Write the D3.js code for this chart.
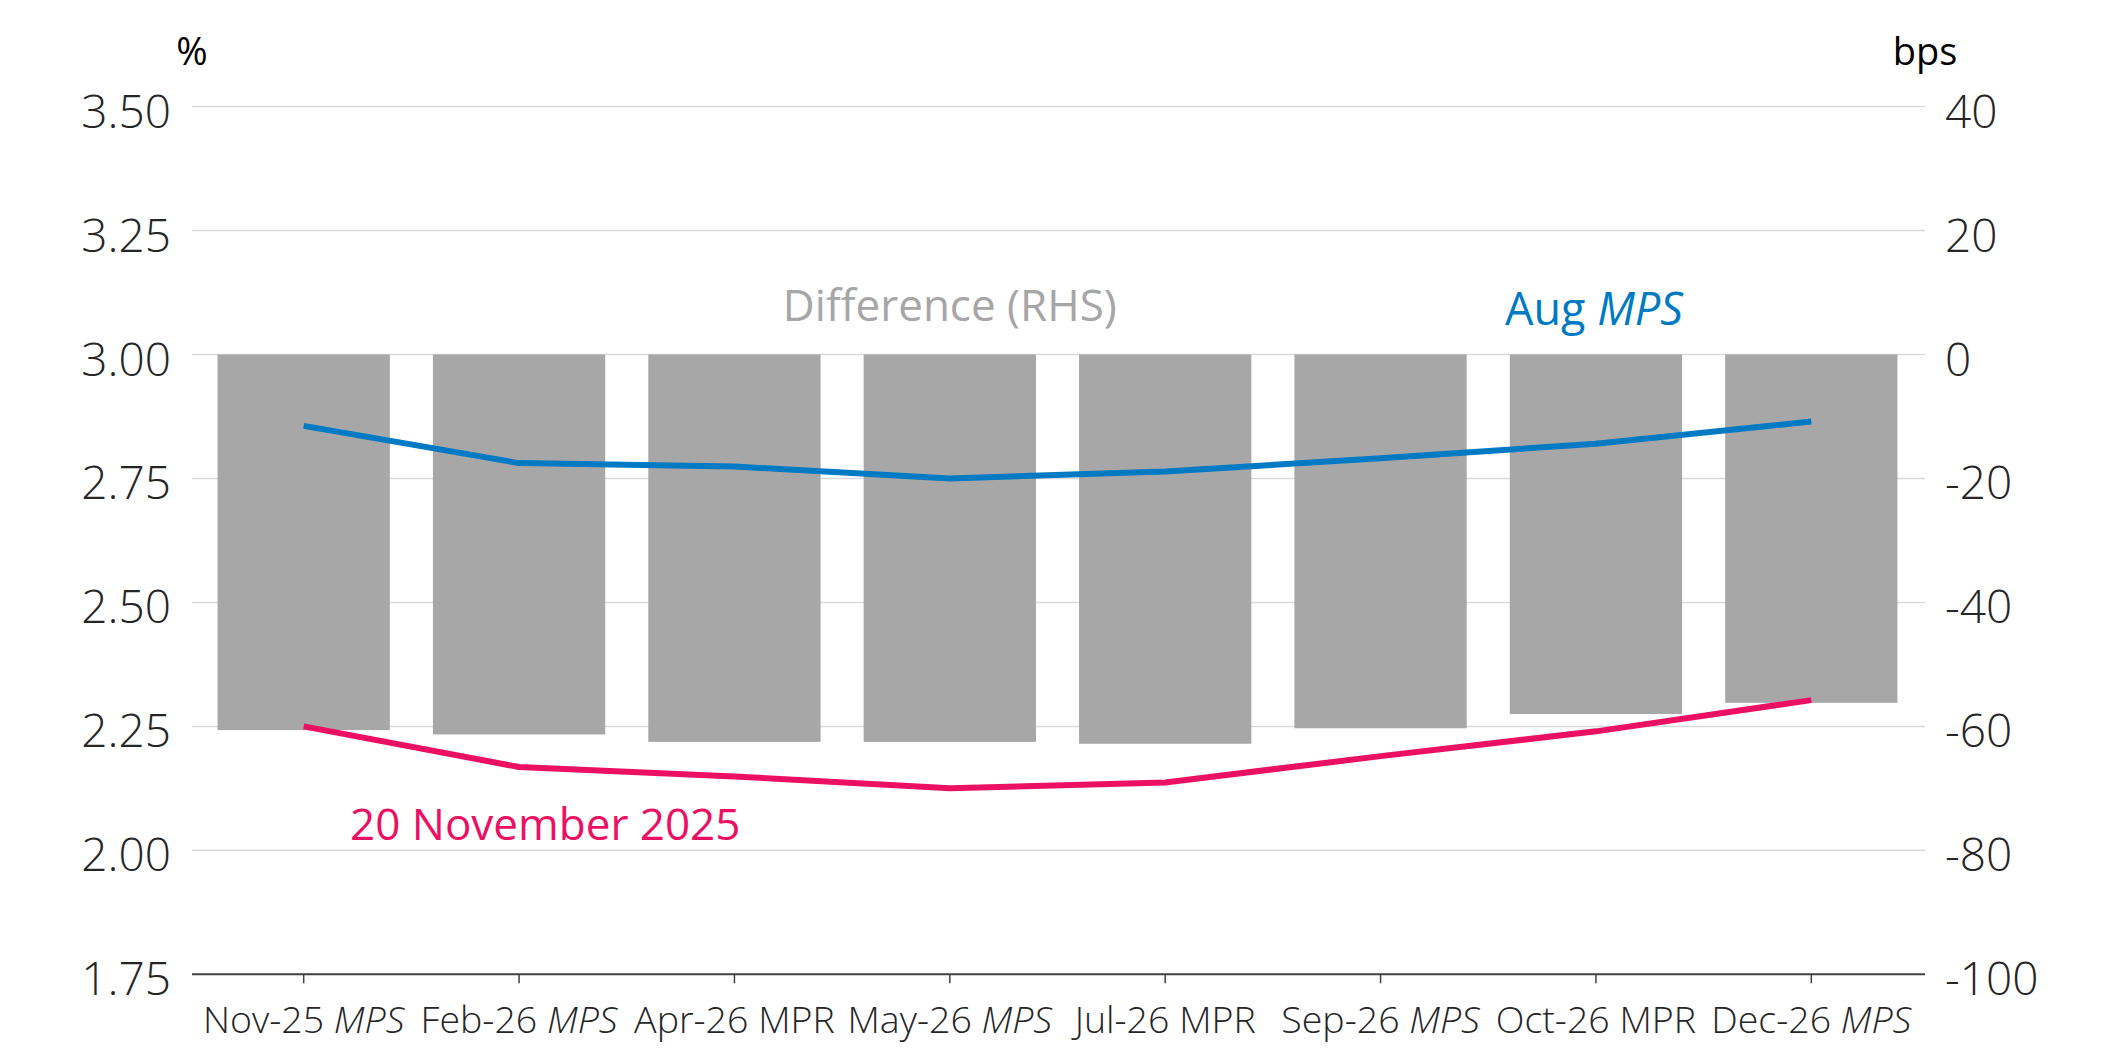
<!DOCTYPE html>
<html>
<head>
<meta charset="utf-8">
<script src="https://cdn.jsdelivr.net/npm/d3@7"></script>
<style>
  body { margin: 0; background: #fff; }
  svg text { font-family: "Open Sans", sans-serif; }
</style>
</head>
<body>
<div id="chart"></div>
<script>
// categories along the x axis, and which publication each one is
var categories = ["Nov-25", "Feb-26", "Apr-26", "May-26", "Jul-26", "Sep-26", "Oct-26", "Dec-26"];
var docTypes   = ["MPS", "MPS", "MPR", "MPS", "MPR", "MPS", "MPR", "MPS"];

// market curves, %
var augMps  = [2.856, 2.781, 2.774, 2.750, 2.764, 2.791, 2.820, 2.865];
var nov2025 = [2.250, 2.168, 2.149, 2.125, 2.137, 2.190, 2.240, 2.303];

// difference, bps (RHS)
var differenceBps = [-60.6, -61.3, -62.5, -62.5, -62.8, -60.3, -58.0, -56.2];

var leftTicks  = [1.75, 2.00, 2.25, 2.50, 2.75, 3.00, 3.25, 3.50];
var rightTicks = [-100, -80, -60, -40, -20, 0, 20, 40];

var width = 2116, height = 1059;
var plotLeft = 192, plotRight = 1925, plotTop = 106.6, plotBottom = 974.3;

var svg = d3.select("#chart")
    .append("svg")
    .attr("width", width)
    .attr("height", height);

var x = d3.scaleBand()
    .domain(categories)
    .range([196, 1919])
    .paddingInner(0.2)
    .paddingOuter(0.1);

var yLeft = d3.scaleLinear()
    .domain([1.75, 3.5])
    .range([plotBottom, plotTop]);

var yRight = d3.scaleLinear()
    .domain([-100, 40])
    .range([plotBottom, plotTop]);

// gridlines
svg.append("g")
    .selectAll("line")
    .data(leftTicks.slice(1))
    .enter()
    .append("line")
    .attr("x1", plotLeft)
    .attr("x2", plotRight)
    .attr("y1", function(d) { return yLeft(d); })
    .attr("y2", function(d) { return yLeft(d); })
    .style("stroke", "#d9d9d9")
    .style("stroke-width", 1.5);

// bars (RHS)
svg.append("g")
    .selectAll("rect")
    .data(differenceBps)
    .enter()
    .append("rect")
    .attr("x", function(d, i) { return x(categories[i]); })
    .attr("width", x.bandwidth())
    .attr("y", yRight(0))
    .attr("height", function(d) { return yRight(d) - yRight(0); })
    .style("fill", "#a7a7a7");

// lines
var line = d3.line()
    .x(function(d, i) { return x(categories[i]) + x.bandwidth() / 2; })
    .y(function(d) { return yLeft(d); });

svg.append("path")
    .datum(augMps)
    .attr("d", line)
    .style("fill", "none")
    .style("stroke", "#007ac3")
    .style("stroke-width", 6);

svg.append("path")
    .datum(nov2025)
    .attr("d", line)
    .style("fill", "none")
    .style("stroke", "#ec1065")
    .style("stroke-width", 6);

// x axis
svg.append("line")
    .attr("x1", plotLeft)
    .attr("x2", plotRight)
    .attr("y1", plotBottom)
    .attr("y2", plotBottom)
    .style("stroke", "#404040")
    .style("stroke-width", 2);

var xAxis = svg.append("g")
    .attr("transform", "translate(0," + plotBottom + ")")
    .call(d3.axisBottom(x).tickSize(9).tickSizeOuter(0).tickFormat(""));
xAxis.select(".domain").remove();
xAxis.selectAll(".tick line").style("stroke", "#404040").style("stroke-width", 1.5);

var xLabels = svg.append("g")
    .selectAll("text")
    .data(categories)
    .enter()
    .append("text")
    .attr("x", function(d) { return x(d) + x.bandwidth() / 2; })
    .attr("y", 1033)
    .attr("text-anchor", "middle")
    .style("font-size", "37.5px")
    .style("font-weight", 300)
    .style("fill", "#262626");
xLabels.append("tspan").text(function(d) { return d + " "; });
xLabels.append("tspan")
    .style("font-style", function(d, i) { return docTypes[i] == "MPS" ? "italic" : "normal"; })
    .text(function(d, i) { return docTypes[i]; });

// left axis labels
svg.append("g")
    .selectAll("text")
    .data(leftTicks)
    .enter()
    .append("text")
    .attr("x", 171)
    .attr("y", function(d) { return yLeft(d) + 21; })
    .attr("text-anchor", "end")
    .style("font-size", "46px")
    .style("font-weight", 300)
    .style("fill", "#262626")
    .text(function(d) { return d3.format(".2f")(d); });

// right axis labels
svg.append("g")
    .selectAll("text")
    .data(rightTicks)
    .enter()
    .append("text")
    .attr("x", 1945)
    .attr("y", function(d) { return yRight(d) + 21; })
    .attr("text-anchor", "start")
    .style("font-size", "46px")
    .style("font-weight", 300)
    .style("fill", "#262626")
    .text(function(d) { return d; });

// units
svg.append("text")
    .attr("x", plotLeft)
    .attr("y", 65)
    .attr("text-anchor", "middle")
    .style("font-size", "38px")
    .style("fill", "#000")
    .text("%");

svg.append("text")
    .attr("x", plotRight)
    .attr("y", 65)
    .attr("text-anchor", "middle")
    .style("font-size", "38px")
    .style("fill", "#000")
    .text("bps");

// series labels
svg.append("text")
    .attr("x", x(categories[3]) + x.bandwidth() / 2)
    .attr("y", yLeft(3.067))
    .attr("text-anchor", "middle")
    .style("font-size", "44px")
    .style("fill", "#a6a6a6")
    .text("Difference (RHS)");

var augLabel = svg.append("text")
    .attr("x", 1505)
    .attr("y", yLeft(3.06))
    .style("font-size", "45px")
    .style("fill", "#007ac3");
augLabel.append("tspan").text("Aug ");
augLabel.append("tspan").style("font-style", "italic").text("MPS");

svg.append("text")
    .attr("x", 350)
    .attr("y", yLeft(2.021))
    .style("font-size", "44px")
    .style("fill", "#ec1065")
    .text("20 November 2025");
</script>
</body>
</html>
